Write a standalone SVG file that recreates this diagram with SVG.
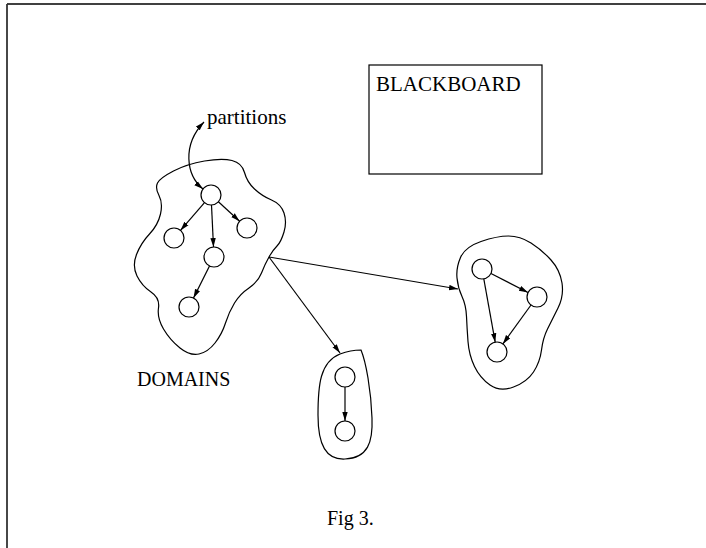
<svg xmlns="http://www.w3.org/2000/svg" width="706" height="548" viewBox="0 0 706 548">
<style>
.ln{fill:none;stroke:#000;stroke-width:1.2}
.nd{fill:#fff;stroke:#000;stroke-width:1.2}
.tx{font-family:"Liberation Serif","Times New Roman",serif;font-size:20px;fill:#000}
.big{font-size:21px}
</style>
<defs>
<marker id="ah" markerUnits="userSpaceOnUse" markerWidth="10" markerHeight="8" refX="9" refY="3" orient="auto-start-reverse">
<path d="M0,0.3 L9,3 L0,5.7 Z" fill="#000"/>
</marker>
</defs>
<rect width="706" height="548" fill="#fff"/>
<g id="frame">
<line x1="7" y1="4" x2="706" y2="4" stroke="#000" stroke-width="1.5"/>
<line x1="7" y1="4" x2="7" y2="548" stroke="#333" stroke-width="1.8"/>
</g>
<g id="blackboard">
<rect x="369" y="65" width="173" height="109" class="ln"/>
<text x="376" y="91" class="tx big">BLACKBOARD</text>
</g>
<g id="domain-main">
<path class="ln" d="M173.5,171 Q187,164 204.5,161 Q222,158 232,160.5 Q242,163 244.5,172.5 Q247,182 254.5,189 Q262,196 271.5,200 Q281,204 284,213 Q287,222 284,232 Q281,242 277,246 Q273,250 269,257 Q265,264 261.5,273 Q258,282 249,288 Q240,294 234.5,303 Q229,312 225.5,323 Q222,334 215,343 Q208,352 199,354 Q190,356 180,348 Q170,340 163.5,329 Q157,318 158.5,308 Q160,298 151,292 Q142,286 137,276 Q132,266 136.5,254.5 Q141,243 149.5,234 Q158,225 160.5,214 Q163,203 159,195.5 Q155,188 157.5,183 Q160,178 173.5,171 Z"/>
<circle cx="211" cy="195" r="10" class="nd"/>
<circle cx="174" cy="238" r="10" class="nd"/>
<circle cx="247" cy="228" r="10" class="nd"/>
<circle cx="214" cy="257" r="10" class="nd"/>
<circle cx="189" cy="307" r="10" class="nd"/>
</g>
<g id="domain-right">
<path class="ln" d="M508.5,236 Q520,236 531,243 Q542,250 551,260 Q560,270 562,283 Q564,296 558,308 Q552,320 547.5,329 Q543,338 541.5,350 Q540,362 533.5,372 Q527,382 513.5,387 Q500,392 490,385 Q480,378 474.5,366.5 Q469,355 468,341.5 Q467,328 466.5,316.5 Q466,305 462,296.5 Q458,288 457,278 Q456,268 460.5,257.5 Q465,247 481,241.5 Q497,236 508.5,236 Z"/>
<circle cx="482" cy="269" r="10" class="nd"/>
<circle cx="537" cy="297" r="10" class="nd"/>
<circle cx="497" cy="352" r="10" class="nd"/>
</g>
<g id="domain-small">
<path class="ln" d="M361,350 C366,362 371,390 372,418 C373,442 368,458 345,459 C326,460 318,445 318,415 C318,385 320,362 340,354 C348,351 355,350 361,350 Z"/>
<circle cx="345" cy="377" r="10" class="nd"/>
<circle cx="345" cy="431" r="10" class="nd"/>
</g>
<g id="connectors">
<line class="ln" x1="204.5" y1="202.6" x2="180.5" y2="230.4" marker-end="url(#ah)"/>
<line class="ln" x1="211.5" y1="205" x2="213.5" y2="247" marker-end="url(#ah)"/>
<line class="ln" x1="218.4" y1="201.8" x2="239.6" y2="221.2" marker-end="url(#ah)"/>
<line class="ln" x1="209.5" y1="266" x2="193.5" y2="298" marker-end="url(#ah)"/>
<line class="ln" x1="491" y1="273.5" x2="528" y2="292.5" marker-end="url(#ah)"/>
<line class="ln" x1="483.8" y1="278.8" x2="495.2" y2="342.2" marker-end="url(#ah)"/>
<line class="ln" x1="531" y1="305" x2="502.9" y2="343.9" marker-end="url(#ah)"/>
<line class="ln" x1="345" y1="387" x2="345" y2="421" marker-end="url(#ah)"/>
<line class="ln" x1="269" y1="257" x2="458" y2="289" marker-end="url(#ah)"/>
<line class="ln" x1="269" y1="257" x2="340" y2="353" marker-end="url(#ah)"/>
<path class="ln" d="M203,189 C186,175 182,145 204,122" marker-start="url(#ah)" marker-end="url(#ah)"/>
</g>
<g id="labels">
<text x="207" y="124" class="tx big">partitions</text>
<text x="137" y="386" class="tx">DOMAINS</text>
<text x="327" y="525" class="tx">Fig 3.</text>
</g>
</svg>
